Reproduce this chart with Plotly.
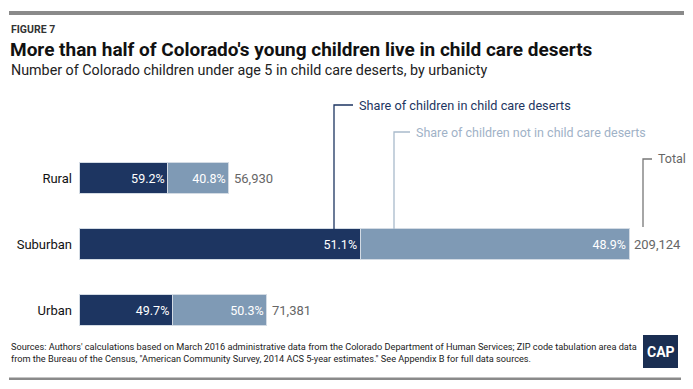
import plotly.graph_objects as go

# ---- data ----
categories = ["Rural", "Suburban", "Urban"]
totals = [56930, 209124, 71381]
share_in_desert = [59.2, 51.1, 49.7]
share_not_desert = [40.8, 48.9, 50.3]
total_labels = ["56,930", "209,124", "71,381"]

in_desert_counts = [t * s / 100 for t, s in zip(totals, share_in_desert)]
not_desert_counts = [t * s / 100 for t, s in zip(totals, share_not_desert)]

W, H = 693, 389
DARK = "#1d3561"
LIGHT = "#7f9ab5"
LIGHT_TXT = "#9fb2c7"
GRAY_TXT = "#666666"
FONT = "Roboto, sans-serif"

def px(x):
    return x / W

def py(y):
    return 1 - y / H

# plot area in pixels
X0, X1 = 79, 693
Y0, Y1 = 145, 343
XMAX = 209124 * (X1 - X0) / 550.0

fig = go.Figure()
fig.add_trace(go.Bar(
    y=categories, x=in_desert_counts, orientation="h",
    name="Share of children in child care deserts",
    marker=dict(color=DARK, line=dict(color="#d3dbe4", width=1)),
    text=[f"{v:.1f}%" for v in share_in_desert],
    textposition="inside", insidetextanchor="end",
    textfont=dict(color="white", size=12.5, family=FONT),
    width=0.455, hoverinfo="skip",
))
fig.add_trace(go.Bar(
    y=categories, x=not_desert_counts, orientation="h",
    name="Share of children not in child care deserts",
    marker=dict(color=LIGHT, line=dict(color="#d3dbe4", width=1)),
    text=[f"{v:.1f}%" for v in share_not_desert],
    textposition="inside", insidetextanchor="end",
    textfont=dict(color="white", size=12.5, family=FONT),
    width=0.455, hoverinfo="skip",
))

annotations = []
for c, t, lab in zip(categories, totals, total_labels):
    annotations.append(dict(x=t, y=c, xref="x", yref="y", text=lab, showarrow=False,
                            xanchor="left", xshift=3, font=dict(size=13, color=GRAY_TXT, family=FONT)))

# header / footer texts
annotations += [
    dict(x=px(9), y=py(30), xref="paper", yref="paper", text="<b>FIGURE 7</b>", showarrow=False,
         xanchor="left", yanchor="middle", font=dict(size=10.5, color="#333333", family=FONT)),
    dict(x=px(8), y=py(50), xref="paper", yref="paper",
         text="<b>More than half of Colorado's young children live in child care deserts</b>", showarrow=False,
         xanchor="left", yanchor="middle", font=dict(size=19, color="#111111", family=FONT)),
    dict(x=px(9), y=py(70), xref="paper", yref="paper",
         text="Number of Colorado children under age 5 in child care deserts, by urbanicty", showarrow=False,
         xanchor="left", yanchor="middle", font=dict(size=14.3, color="#222222", family=FONT)),
    dict(x=px(9), y=py(352.5), xref="paper", yref="paper",
         text="Sources: Authors' calculations based on March 2016 administrative data from the Colorado Department of Human Services; ZIP code tabulation area data<br>from the Bureau of the Census, \"American Community Survey, 2014 ACS 5-year estimates.\" See Appendix B for full data sources.",
         showarrow=False, xanchor="left", yanchor="middle", align="left",
         font=dict(size=9.2, color="#222222", family=FONT)),
    dict(x=px(660.5), y=py(351.5), xref="paper", yref="paper", text="<b>CAP</b>", showarrow=False,
         xanchor="center", yanchor="middle", font=dict(size=14, color="white", family=FONT)),
    # leader labels
    dict(x=px(357), y=py(105), xref="paper", yref="paper", text="Share of children in child care deserts",
         showarrow=False, xanchor="left", yanchor="middle", font=dict(size=12.7, color=DARK, family=FONT)),
    dict(x=px(414), y=py(132), xref="paper", yref="paper", text="Share of children not in child care deserts",
         showarrow=False, xanchor="left", yanchor="middle", font=dict(size=12.5, color=LIGHT_TXT, family=FONT)),
    dict(x=px(656), y=py(158), xref="paper", yref="paper", text="Total",
         showarrow=False, xanchor="left", yanchor="middle", font=dict(size=12.5, color=GRAY_TXT, family=FONT)),
]

shapes = [
    dict(type="rect", xref="paper", yref="paper", x0=px(9), x1=px(684), y0=py(11), y1=py(15),
         fillcolor="#8a8a8a", line=dict(width=0)),
    dict(type="rect", xref="paper", yref="paper", x0=px(9), x1=px(681), y0=py(377.5), y1=py(380),
         fillcolor="#8a8a8a", line=dict(width=0)),
    dict(type="rect", xref="paper", yref="paper", x0=px(643), x1=px(678), y0=py(335), y1=py(368),
         fillcolor="#1a2e52", line=dict(width=0)),
    # leader lines
    dict(type="path", xref="paper", yref="paper",
         path=f"M {px(334)} {py(229)} L {px(334)} {py(105)} L {px(353)} {py(105)}",
         line=dict(color=DARK, width=1.3)),
    dict(type="path", xref="paper", yref="paper",
         path=f"M {px(394)} {py(229)} L {px(394)} {py(132)} L {px(410)} {py(132)}",
         line=dict(color="#a9bacb", width=1.3)),
    dict(type="path", xref="paper", yref="paper",
         path=f"M {px(643)} {py(227)} L {px(643)} {py(159)} L {px(652)} {py(159)}",
         line=dict(color="#777777", width=1.3)),
]

fig.update_layout(
    width=W, height=H, barmode="stack", showlegend=False,
    margin=dict(l=0, r=0, t=0, b=0),
    paper_bgcolor="white", plot_bgcolor="white",
    font=dict(family=FONT),
    xaxis=dict(domain=[px(X0), px(X1)], range=[0, XMAX], visible=False, fixedrange=True),
    yaxis=dict(domain=[py(Y1), py(Y0)], autorange="reversed", showgrid=False, zeroline=False,
               showline=False, ticks="", ticklabelstandoff=6, fixedrange=True,
               tickfont=dict(size=13, color="#111111", family=FONT)),
    annotations=annotations, shapes=shapes,
    uniformtext=dict(mode="show", minsize=8),
)

fig.write_html("out.html", config={"displayModeBar": False},
               post_script="document.body.style.margin='0px';")
